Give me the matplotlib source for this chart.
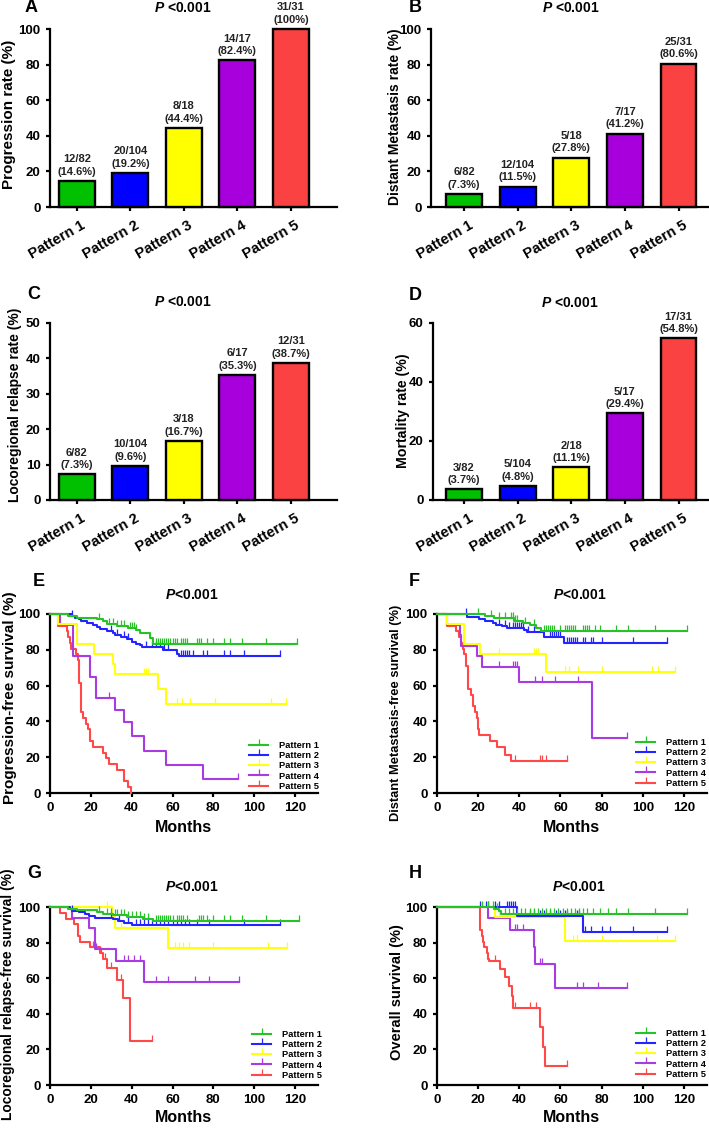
import numpy as np
import matplotlib
matplotlib.use('Agg')
import matplotlib.pyplot as plt
from matplotlib.lines import Line2D
from matplotlib.transforms import ScaledTranslation

plt.rcParams['font.family'] = ['Liberation Sans', 'DejaVu Sans']
plt.rcParams['font.weight'] = 'bold'
plt.rcParams['axes.labelweight'] = 'bold'
plt.rcParams['mathtext.fontset'] = 'custom'
plt.rcParams['mathtext.it'] = 'Liberation Sans:italic:bold'
plt.rcParams['mathtext.rm'] = 'Liberation Sans:bold'

W, H = 709, 1128

# ---------------- data ----------------
patterns = ['Pattern 1', 'Pattern 2', 'Pattern 3', 'Pattern 4', 'Pattern 5']
bar_colors = ['#00C000', '#0000FF', '#FFFF00', '#A800DC', '#FA4242']
km_colors = ['#25C325', '#2424FF', '#FFFF10', '#A83CE2', '#FF4848']

totals = [82, 104, 18, 17, 31]
prog_events = [12, 20, 8, 14, 31]
prog_pct = [14.6, 19.2, 44.4, 82.4, 100]
dm_events = [6, 12, 5, 7, 25]
dm_pct = [7.3, 11.5, 27.8, 41.2, 80.6]
lr_events = [6, 10, 3, 6, 12]
lr_pct = [7.3, 9.6, 16.7, 35.3, 38.7]
death_events = [3, 5, 2, 5, 17]
death_pct = [3.7, 4.8, 11.1, 29.4, 54.8]

# Progression-free survival (E): step times / survival after step / end of follow-up / censor times
pfs_t = [[0, 9, 13, 23, 26, 28, 33, 38, 42, 44, 49, 50.5],
         [0, 10.6, 12, 14, 15, 18, 21, 23, 24.5, 28, 31, 32, 35, 37.5, 40, 42, 44, 45, 55.5, 62, 63],
         [0, 4, 13, 21.5, 31, 32, 53, 57],
         [0, 5, 11.5, 19.6, 22.4, 32, 36, 40.4, 46, 57, 75],
         [0, 4.1, 8.2, 9, 9.8, 10.5, 12.7, 13.5, 14.2, 15.2, 16.3, 17.5, 18.8, 19.6, 21.2,
          26.1, 27.5, 29.1, 33, 36, 38.4, 39.5]]
pfs_s = [[100, 99, 98, 97, 96, 94.5, 93.3, 92.4, 91, 89.5, 86.5, 83.4],
         [100, 99, 98, 97, 96, 95, 94, 92.7, 91.6, 90.5, 89.5, 88.2, 87.1, 86, 84.6, 83.5, 82.5, 81.4, 79.7, 77.8, 76.5],
         [100, 94.4, 83.3, 77.8, 72.2, 66.7, 58.3, 50],
         [100, 94.1, 76.5, 64.7, 52.9, 46.3, 39.7, 31.8, 23.6, 15.7, 7.9],
         [100, 93.5, 90.3, 87.1, 83.9, 80.6, 77.4, 74.2, 61.3, 45.2, 41.9, 38.7, 35.5, 29.0, 25.8,
          22.6, 19.4, 16.1, 12.9, 6.5, 3.2, 0]]
pfs_end = [121, 112.8, 115.5, 92, 39.5]
pfs_cens = [[24, 29, 31, 33, 35, 36, 39, 40, 41, 42, 52, 53, 54, 55, 56, 57, 58, 59, 60, 61, 62, 64, 65, 66,
             67, 72, 73, 74, 77, 80, 85, 88, 94, 106, 121],
            [11, 30, 33, 36, 38, 47, 50, 52, 54, 56, 58, 64, 65, 66, 67, 68, 70, 75, 77, 85, 88, 95, 112.8],
            [46, 47, 48, 62, 64.5, 68.5, 81, 108, 115.5],
            [29, 92],
            []]

# Distant metastasis-free survival (F)
dmfs_t = [[0, 23.5, 27.6, 37.3, 41.8, 45.4, 48.3, 50.3],
          [0, 14.6, 20.3, 23.5, 27.2, 28.9, 31.6, 34, 42.2, 43.5, 52, 61.7],
          [0, 4.9, 13, 21, 53],
          [0, 5, 11, 11.7, 19.2, 22, 40, 75.4],
          [0, 5, 9, 10.6, 11.7, 12.5, 13.3, 14.1, 15.1, 16.6, 17.4, 18.4, 19.2, 19.8, 20.6, 25.7,
           29.3, 32.8, 36]]
dmfs_s = [[100, 98.8, 97.5, 96.3, 95, 93.6, 92.1, 90.3],
          [100, 98.1, 97.1, 96.1, 95.1, 94.1, 93.1, 92.1, 91, 89.8, 87, 83.6],
          [100, 94.4, 83.3, 77.8, 67.7],
          [100, 94.1, 88.2, 82.4, 76.5, 70.6, 61.8, 30.9],
          [100, 93.5, 90.3, 87.1, 83.9, 80.6, 77.4, 71.0, 58.1, 54.8, 48.4, 45.2, 41.9, 35.5, 32.3, 29.0,
           25.8, 21.5, 17.8]]
dmfs_end = [121.5, 112, 115.5, 92.4, 63]
dmfs_cens = [[20, 26, 30, 33, 36, 37, 38, 39, 43, 47, 52, 53, 54, 55, 56, 57, 60, 62, 63, 64, 65, 66, 67,
              71, 72, 73, 74, 77, 79, 87, 93, 106, 121.5],
             [14, 30, 33, 35, 37, 38, 39, 40, 41, 42, 44, 47, 55, 56, 57, 58, 59, 60, 63, 64, 65, 66, 67,
              68, 71, 72, 75, 76, 80, 95, 112],
             [30, 47, 48, 49, 62, 64, 68.5, 80, 104.5, 107.4, 115.5],
             [30, 37, 38, 39, 47.6, 51, 57.3, 68.5, 92.4],
             [38, 50, 51, 53, 63]]

# Locoregional relapse-free survival (G)
lrfs_t = [[0, 9, 13, 23, 26, 31, 37.5, 45.7, 50.6],
          [0, 10, 11, 14, 17, 19, 22, 31, 33.5, 36, 40],
          [0, 30.5, 32, 58],
          [0, 11, 19.3, 22, 32.3, 46],
          [0, 5, 8, 11.7, 13.9, 14.7, 19.6, 24.5, 26, 28, 33, 35.6, 39.2]]
lrfs_s = [[100, 99, 98.1, 97.2, 96.3, 95.3, 94.4, 93.5, 92.1],
          [100, 99, 98, 97, 96, 95, 94, 93, 92, 91, 90],
          [100, 94.4, 88.2, 77.2],
          [100, 94.1, 88.2, 76.5, 69.7, 57.9],
          [100, 96.8, 93.5, 90.3, 83.9, 80.6, 77.4, 74.2, 71, 66, 58.9, 49, 24.5]]
lrfs_end = [122, 112.7, 116, 92.7, 49.8]
lrfs_cens = [[24, 28, 30, 32, 33, 35, 36, 38, 40, 42, 44, 46, 48, 52, 53, 54, 55, 56, 57, 58, 59, 60, 62,
              63, 64, 65, 67, 73, 74, 75, 77, 80, 85, 88, 94, 106, 122],
             [11, 30, 34, 38, 42, 44, 46, 48, 50, 52, 54, 56, 58, 60, 62, 64, 66, 68, 72, 78, 95, 112.7],
             [28, 35, 61, 63, 65, 68, 80, 107, 116],
             [22.5, 36, 38, 41, 44, 52, 58, 71, 78, 92.7],
             [21, 22, 25, 27, 30, 35, 49.8]]

# Overall survival (H)
os_t = [[0, 27.6, 30, 31],
        [0, 39, 71],
        [0, 28.4, 62.4],
        [0, 25, 35.7, 47, 47.8, 57.2],
        [0, 20.8, 21.9, 22.4, 23, 24.3, 25, 25.5, 30.8, 33.2, 34.9, 36.5, 37, 50, 51.4, 52.7]]
os_s = [[100, 99, 97.5, 96.2],
        [100, 95.2, 85.7],
        [100, 94.4, 81.1],
        [100, 94.1, 87.3, 77.6, 67.9, 54.4],
        [100, 87.1, 83.9, 80.6, 77.4, 74.2, 71, 69.7, 65.2, 60.6, 55.7, 50, 43.2, 32.4, 21.6, 10.8]]
os_end = [121.5, 112, 115.5, 92.4, 63.2]
os_cens = [[22, 25, 27, 29, 33, 35, 37, 39, 41, 43, 45, 47, 49, 51, 53, 55, 57, 59, 61, 63, 65, 67, 69,
            71, 73, 76, 79, 83, 87, 93, 106, 121.5],
           [21, 24, 25, 28, 30, 34, 35, 36, 37, 38, 45, 47, 50, 52, 55, 58, 60, 62, 63, 68, 69, 72, 75,
            80, 84, 95, 112],
           [30, 60, 66, 68, 80, 107, 115.5],
           [38, 39, 42, 50, 51, 68, 71, 78, 92.4],
           [28, 38, 45, 48, 63.2]]

# ---------------- drawing ----------------
fig = plt.figure(figsize=(W / 100, H / 100), dpi=100)


def add_ax(l, t, r, b):
    return fig.add_axes([l / W, 1 - b / H, (r - l) / W, (b - t) / H])


def ftext(x, y, s, **kw):
    fig.text(x / W, 1 - y / H, s, **kw)


def style_axes(ax):
    for sp in ['top', 'right']:
        ax.spines[sp].set_visible(False)
    for sp in ['left', 'bottom']:
        ax.spines[sp].set_linewidth(1.6)
    ax.tick_params(width=1.6, length=3.2, labelsize=9.5, colors='black')


def place_ylabel(ax, text, size, xc, yc):
    ax.set_ylabel(text, fontsize=size, fontweight='bold')
    xa, ya = ax.transAxes.inverted().transform((xc, H - yc))
    ax.yaxis.set_label_coords(xa, ya)
    ax.yaxis.label.set_va('center')


def place_xlabel(ax, text, size, yc):
    ax.set_xlabel(text, fontsize=size, fontweight='bold')
    _, ya = ax.transAxes.inverted().transform((0, H - yc))
    ax.xaxis.set_label_coords(0.5, ya)
    ax.xaxis.label.set_va('center')


def bar_panel(ax, pct, ev, yticks, xlim):
    x = np.arange(len(patterns))
    ax.bar(x, pct, width=0.67, color=bar_colors, edgecolor='black', linewidth=1.7, zorder=3, clip_on=False)
    for xi, p, e, n in zip(x, pct, ev, totals):
        ax.annotate(f'{e}/{n}\n({p:g}%)', (xi, p), xytext=(0, 3), textcoords='offset points',
                    ha='center', va='bottom', fontsize=8, color='#222222', linespacing=1.3,
                    annotation_clip=False, fontweight='bold')
    ax.set_xlim(*xlim)
    ax.set_ylim(0, yticks[-1])
    ax.set_yticks(yticks)
    ax.set_xticks(x)
    style_axes(ax)
    ax.tick_params(axis='x', pad=5)
    ax.set_xticklabels(patterns, rotation=30, ha='right', rotation_mode='anchor', fontsize=10.5)
    off = ScaledTranslation(4 / 100, 0, fig.dpi_scale_trans)
    for lbl in ax.get_xticklabels():
        lbl.set_transform(lbl.get_transform() + off)


def km_panel(ax, tlist, slist, ends, cens, legend_anchor):
    for i in reversed(range(5)):
        t = list(tlist[i]) + [ends[i]]
        s = list(slist[i]) + [slist[i][-1]]
        ax.step(t, s, where='post', color=km_colors[i], lw=1.5, clip_on=False, zorder=3 + (5 - i))
        if cens[i]:
            c = np.array(cens[i], dtype=float)
            idx = np.searchsorted(np.array(tlist[i]), c, side='right') - 1
            ys = np.array(slist[i])[idx]
            ax.plot(c, ys, ls='none', marker=2, ms=4, mew=0.9, color=km_colors[i], clip_on=False,
                    zorder=3 + (5 - i))
    ax.set_xlim(0, 131)
    ax.set_ylim(0, 100)
    ax.set_xticks(np.arange(0, 121, 20))
    ax.set_yticks(np.arange(0, 101, 20))
    style_axes(ax)
    handles = [Line2D([], [], color=c, lw=1.5, marker=2, ms=4, mew=0.9) for c in km_colors]
    ax.legend(handles, patterns, loc='lower right', numpoints=1, frameon=False,
              bbox_to_anchor=(legend_anchor[0] / W, 1 - legend_anchor[1] / H),
              bbox_transform=fig.transFigure, borderpad=0, borderaxespad=0,
              handlelength=2.0, handletextpad=1.2, labelspacing=0.14,
              prop={'size': 6.7, 'weight': 'bold'})


# Bar panels
axA = add_ax(50, 29, 337, 207)
bar_panel(axA, prog_pct, prog_events, [0, 20, 40, 60, 80, 100], (-0.5, 4.86))
place_ylabel(axA, 'Progression rate (%)', 11, 9, 114)

axB = add_ax(431, 29, 708, 207)
bar_panel(axB, dm_pct, dm_events, [0, 20, 40, 60, 80, 100], (-0.62, 4.55))
place_ylabel(axB, 'Distant Metastasis rate (%)', 10, 395, 117)

axC = add_ax(50, 323, 337, 500)
bar_panel(axC, lr_pct, lr_events, [0, 10, 20, 30, 40, 50], (-0.5, 4.86))
place_ylabel(axC, 'Locoregional relapse rate (%)', 10, 15, 405)

axD = add_ax(433, 323, 708, 500)
bar_panel(axD, death_pct, death_events, [0, 20, 40, 60], (-0.58, 4.55))
place_ylabel(axD, 'Mortality rate (%)', 10.2, 403, 411)

# KM panels
axE = add_ax(50, 614, 317.5, 793)
km_panel(axE, pfs_t, pfs_s, pfs_end, pfs_cens, (319, 791))
place_ylabel(axE, 'Progression-free survival (%)', 11, 10, 698)
place_xlabel(axE, 'Months', 11.5, 828)

axF = add_ax(437, 614, 706.6, 793)
km_panel(axF, dmfs_t, dmfs_s, dmfs_end, dmfs_cens, (706, 788))
place_ylabel(axF, 'Distant Metastasis-free survival (%)', 9.3, 396, 713)
place_xlabel(axF, 'Months', 11.5, 828)

axG = add_ax(50, 907, 317.5, 1085)
km_panel(axG, lrfs_t, lrfs_s, lrfs_end, lrfs_cens, (322, 1080))
place_ylabel(axG, 'Locoregional relapse-free survival (%)', 10, 8, 994)
place_xlabel(axG, 'Months', 11.5, 1118)

axH = add_ax(437, 907, 706.6, 1085)
km_panel(axH, os_t, os_s, os_end, os_cens, (706, 1079))
place_ylabel(axH, 'Overall survival (%)', 10.5, 397, 992)
place_xlabel(axH, 'Months', 11.5, 1118)

# Titles and panel letters
title_kw = dict(ha='center', va='center', fontsize=10, fontweight='bold')
ftext(183, 8, r'$P$ <0.001', **title_kw)
ftext(571, 8, r'$P$ <0.001', **title_kw)
ftext(183, 302, r'$P$ <0.001', **title_kw)
ftext(570, 303, r'$P$ <0.001', **title_kw)
ftext(192, 595, r'$P$<0.001', **title_kw)
ftext(580, 595, r'$P$<0.001', **title_kw)
ftext(192, 887, r'$P$<0.001', **title_kw)
ftext(579, 887, r'$P$<0.001', **title_kw)

letter_kw = dict(ha='left', va='center', fontsize=13, fontweight='bold')
for letter, x, y in [('A', 25, 8), ('B', 409, 8), ('C', 27, 294), ('D', 409, 295),
                     ('E', 33, 581), ('F', 409, 581), ('G', 27, 874), ('H', 409, 874)]:
    ftext(x, y, letter, **letter_kw)

fig.savefig('out.png', dpi=100)
